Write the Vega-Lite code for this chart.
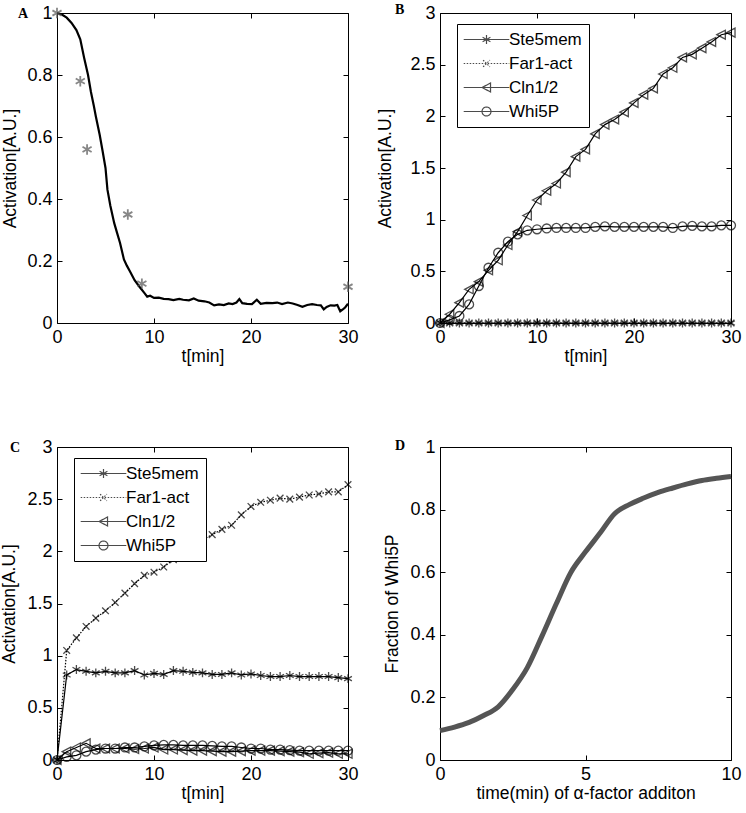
{
  "$schema": "https://vega.github.io/schema/vega-lite/v6.json",
  "padding": {"left": 0, "top": 2, "right": 5, "bottom": 5},
  "config": {
    "font": "Liberation Sans",
    "view": {"stroke": "black", "strokeWidth": 1},
    "axis": {"domain": false, "grid": false, "ticks": true, "tickSize": 5, "tickColor": "black", "tickWidth": 1, "labelFont": "Liberation Sans", "labelFontSize": 18, "labelColor": "black", "labelPadding": 5, "labelFlush": false, "labelOverlap": false, "titleFont": "Liberation Sans", "titleFontSize": 17.5, "titleFontWeight": "normal", "titleColor": "black", "format": "~r"},
    "axisX": {"titlePadding": 1},
    "axisY": {"titlePadding": 7},
    "title": {"font": "Liberation Serif", "fontWeight": "bold", "fontSize": 14, "color": "black", "anchor": "start", "frame": "group", "baseline": "alphabetic"}
  },
  "datasets": {
    "A_line": [
      {"t":0,"v":1.0},{"t":0.5,"v":0.995},{"t":1,"v":0.985},{"t":1.5,"v":0.968},{"t":2,"v":0.945},{"t":2.4,"v":0.915},{"t":2.8,"v":0.855},{"t":3.2,"v":0.8},{"t":3.5,"v":0.745},{"t":3.8,"v":0.7},{"t":4.0,"v":0.667},{"t":4.4,"v":0.607},{"t":4.7,"v":0.555},{"t":5.0,"v":0.5},{"t":5.2,"v":0.43},{"t":5.5,"v":0.378},{"t":5.9,"v":0.322},{"t":6.2,"v":0.29},{"t":6.5,"v":0.258},{"t":6.9,"v":0.205},{"t":7.2,"v":0.185},{"t":7.5,"v":0.168},{"t":8.0,"v":0.138},{"t":8.5,"v":0.117},{"t":9.0,"v":0.097},{"t":9.3,"v":0.085},{"t":9.6,"v":0.088},{"t":10.0,"v":0.081},{"t":10.5,"v":0.082},{"t":11.0,"v":0.078},{"t":11.5,"v":0.077},{"t":12.0,"v":0.074},{"t":12.6,"v":0.078},{"t":13.0,"v":0.075},{"t":13.6,"v":0.073},{"t":14.1,"v":0.079},{"t":14.6,"v":0.072},{"t":15.2,"v":0.07},{"t":15.7,"v":0.066},{"t":16.2,"v":0.057},{"t":16.7,"v":0.06},{"t":17.2,"v":0.058},{"t":17.7,"v":0.063},{"t":18.1,"v":0.061},{"t":18.5,"v":0.066},{"t":18.8,"v":0.077},{"t":19.1,"v":0.064},{"t":19.6,"v":0.062},{"t":20.1,"v":0.061},{"t":20.6,"v":0.075},{"t":21.0,"v":0.062},{"t":21.6,"v":0.065},{"t":22.2,"v":0.064},{"t":22.7,"v":0.066},{"t":23.2,"v":0.061},{"t":23.8,"v":0.066},{"t":24.3,"v":0.063},{"t":24.8,"v":0.058},{"t":25.3,"v":0.052},{"t":25.8,"v":0.058},{"t":26.3,"v":0.061},{"t":26.8,"v":0.058},{"t":27.2,"v":0.057},{"t":27.5,"v":0.044},{"t":27.8,"v":0.052},{"t":28.2,"v":0.057},{"t":28.6,"v":0.056},{"t":28.9,"v":0.058},{"t":29.2,"v":0.038},{"t":29.5,"v":0.045},{"t":29.7,"v":0.05},{"t":30.0,"v":0.062}
    ],
    "A_pts": [
      {"t":0,"v":1.0},{"t":2.4,"v":0.78},{"t":3.1,"v":0.56},{"t":7.3,"v":0.35},{"t":8.75,"v":0.127},{"t":30,"v":0.117}
    ],
    "B": [
      {"t":0,"v":0,"s":"Ste5mem"},{"t":1,"v":0,"s":"Ste5mem"},{"t":2,"v":0,"s":"Ste5mem"},{"t":3,"v":0,"s":"Ste5mem"},{"t":4,"v":0,"s":"Ste5mem"},{"t":5,"v":0,"s":"Ste5mem"},{"t":6,"v":0,"s":"Ste5mem"},{"t":7,"v":0,"s":"Ste5mem"},{"t":8,"v":0,"s":"Ste5mem"},{"t":9,"v":0,"s":"Ste5mem"},{"t":10,"v":0,"s":"Ste5mem"},{"t":11,"v":0,"s":"Ste5mem"},{"t":12,"v":0,"s":"Ste5mem"},{"t":13,"v":0,"s":"Ste5mem"},{"t":14,"v":0,"s":"Ste5mem"},{"t":15,"v":0,"s":"Ste5mem"},{"t":16,"v":0,"s":"Ste5mem"},{"t":17,"v":0,"s":"Ste5mem"},{"t":18,"v":0,"s":"Ste5mem"},{"t":19,"v":0,"s":"Ste5mem"},{"t":20,"v":0,"s":"Ste5mem"},{"t":21,"v":0,"s":"Ste5mem"},{"t":22,"v":0,"s":"Ste5mem"},{"t":23,"v":0,"s":"Ste5mem"},{"t":24,"v":0,"s":"Ste5mem"},{"t":25,"v":0,"s":"Ste5mem"},{"t":26,"v":0,"s":"Ste5mem"},{"t":27,"v":0,"s":"Ste5mem"},{"t":28,"v":0,"s":"Ste5mem"},{"t":29,"v":0,"s":"Ste5mem"},{"t":30,"v":0,"s":"Ste5mem"},
      {"t":0,"v":0,"s":"Far1-act"},{"t":1,"v":0,"s":"Far1-act"},{"t":2,"v":0,"s":"Far1-act"},{"t":3,"v":0,"s":"Far1-act"},{"t":4,"v":0,"s":"Far1-act"},{"t":5,"v":0,"s":"Far1-act"},{"t":6,"v":0,"s":"Far1-act"},{"t":7,"v":0,"s":"Far1-act"},{"t":8,"v":0,"s":"Far1-act"},{"t":9,"v":0,"s":"Far1-act"},{"t":10,"v":0,"s":"Far1-act"},{"t":11,"v":0,"s":"Far1-act"},{"t":12,"v":0,"s":"Far1-act"},{"t":13,"v":0,"s":"Far1-act"},{"t":14,"v":0,"s":"Far1-act"},{"t":15,"v":0,"s":"Far1-act"},{"t":16,"v":0,"s":"Far1-act"},{"t":17,"v":0,"s":"Far1-act"},{"t":18,"v":0,"s":"Far1-act"},{"t":19,"v":0,"s":"Far1-act"},{"t":20,"v":0,"s":"Far1-act"},{"t":21,"v":0,"s":"Far1-act"},{"t":22,"v":0,"s":"Far1-act"},{"t":23,"v":0,"s":"Far1-act"},{"t":24,"v":0,"s":"Far1-act"},{"t":25,"v":0,"s":"Far1-act"},{"t":26,"v":0,"s":"Far1-act"},{"t":27,"v":0,"s":"Far1-act"},{"t":28,"v":0,"s":"Far1-act"},{"t":29,"v":0,"s":"Far1-act"},{"t":30,"v":0,"s":"Far1-act"},
      {"t":0,"v":0,"s":"Cln1/2"},{"t":1,"v":0.085,"s":"Cln1/2"},{"t":2,"v":0.197,"s":"Cln1/2"},{"t":3,"v":0.326,"s":"Cln1/2"},{"t":4,"v":0.4,"s":"Cln1/2"},{"t":5,"v":0.51,"s":"Cln1/2"},{"t":6,"v":0.607,"s":"Cln1/2"},{"t":7,"v":0.755,"s":"Cln1/2"},{"t":8,"v":0.884,"s":"Cln1/2"},{"t":9,"v":1.04,"s":"Cln1/2"},{"t":10,"v":1.19,"s":"Cln1/2"},{"t":11,"v":1.28,"s":"Cln1/2"},{"t":12,"v":1.35,"s":"Cln1/2"},{"t":13,"v":1.46,"s":"Cln1/2"},{"t":14,"v":1.61,"s":"Cln1/2"},{"t":15,"v":1.68,"s":"Cln1/2"},{"t":16,"v":1.83,"s":"Cln1/2"},{"t":17,"v":1.92,"s":"Cln1/2"},{"t":18,"v":1.97,"s":"Cln1/2"},{"t":19,"v":2.04,"s":"Cln1/2"},{"t":20,"v":2.13,"s":"Cln1/2"},{"t":21,"v":2.21,"s":"Cln1/2"},{"t":22,"v":2.27,"s":"Cln1/2"},{"t":23,"v":2.41,"s":"Cln1/2"},{"t":24,"v":2.47,"s":"Cln1/2"},{"t":25,"v":2.57,"s":"Cln1/2"},{"t":26,"v":2.6,"s":"Cln1/2"},{"t":27,"v":2.66,"s":"Cln1/2"},{"t":28,"v":2.72,"s":"Cln1/2"},{"t":29,"v":2.79,"s":"Cln1/2"},{"t":30,"v":2.81,"s":"Cln1/2"},
      {"t":0,"v":0,"s":"Whi5P"},{"t":1,"v":0.03,"s":"Whi5P"},{"t":2,"v":0.068,"s":"Whi5P"},{"t":3,"v":0.18,"s":"Whi5P"},{"t":4,"v":0.358,"s":"Whi5P"},{"t":5,"v":0.535,"s":"Whi5P"},{"t":6,"v":0.68,"s":"Whi5P"},{"t":7,"v":0.787,"s":"Whi5P"},{"t":8,"v":0.858,"s":"Whi5P"},{"t":9,"v":0.897,"s":"Whi5P"},{"t":10,"v":0.907,"s":"Whi5P"},{"t":11,"v":0.915,"s":"Whi5P"},{"t":12,"v":0.92,"s":"Whi5P"},{"t":13,"v":0.92,"s":"Whi5P"},{"t":14,"v":0.92,"s":"Whi5P"},{"t":15,"v":0.92,"s":"Whi5P"},{"t":16,"v":0.93,"s":"Whi5P"},{"t":17,"v":0.935,"s":"Whi5P"},{"t":18,"v":0.93,"s":"Whi5P"},{"t":19,"v":0.93,"s":"Whi5P"},{"t":20,"v":0.93,"s":"Whi5P"},{"t":21,"v":0.93,"s":"Whi5P"},{"t":22,"v":0.93,"s":"Whi5P"},{"t":23,"v":0.93,"s":"Whi5P"},{"t":24,"v":0.92,"s":"Whi5P"},{"t":25,"v":0.935,"s":"Whi5P"},{"t":26,"v":0.94,"s":"Whi5P"},{"t":27,"v":0.935,"s":"Whi5P"},{"t":28,"v":0.935,"s":"Whi5P"},{"t":29,"v":0.945,"s":"Whi5P"},{"t":30,"v":0.945,"s":"Whi5P"}
    ],
    "C": [
      {"t":0,"v":0,"s":"Ste5mem"},{"t":1,"v":0.815,"s":"Ste5mem"},{"t":2,"v":0.867,"s":"Ste5mem"},{"t":3,"v":0.85,"s":"Ste5mem"},{"t":4,"v":0.835,"s":"Ste5mem"},{"t":5,"v":0.85,"s":"Ste5mem"},{"t":6,"v":0.835,"s":"Ste5mem"},{"t":7,"v":0.835,"s":"Ste5mem"},{"t":8,"v":0.857,"s":"Ste5mem"},{"t":9,"v":0.815,"s":"Ste5mem"},{"t":10,"v":0.83,"s":"Ste5mem"},{"t":11,"v":0.82,"s":"Ste5mem"},{"t":12,"v":0.857,"s":"Ste5mem"},{"t":13,"v":0.85,"s":"Ste5mem"},{"t":14,"v":0.84,"s":"Ste5mem"},{"t":15,"v":0.835,"s":"Ste5mem"},{"t":16,"v":0.82,"s":"Ste5mem"},{"t":17,"v":0.82,"s":"Ste5mem"},{"t":18,"v":0.835,"s":"Ste5mem"},{"t":19,"v":0.815,"s":"Ste5mem"},{"t":20,"v":0.825,"s":"Ste5mem"},{"t":21,"v":0.81,"s":"Ste5mem"},{"t":22,"v":0.8,"s":"Ste5mem"},{"t":23,"v":0.8,"s":"Ste5mem"},{"t":24,"v":0.81,"s":"Ste5mem"},{"t":25,"v":0.8,"s":"Ste5mem"},{"t":26,"v":0.8,"s":"Ste5mem"},{"t":27,"v":0.8,"s":"Ste5mem"},{"t":28,"v":0.8,"s":"Ste5mem"},{"t":29,"v":0.79,"s":"Ste5mem"},{"t":30,"v":0.78,"s":"Ste5mem"},
      {"t":0,"v":0,"s":"Far1-act"},{"t":1,"v":1.05,"s":"Far1-act"},{"t":2,"v":1.17,"s":"Far1-act"},{"t":3,"v":1.28,"s":"Far1-act"},{"t":4,"v":1.36,"s":"Far1-act"},{"t":5,"v":1.43,"s":"Far1-act"},{"t":6,"v":1.51,"s":"Far1-act"},{"t":7,"v":1.6,"s":"Far1-act"},{"t":8,"v":1.69,"s":"Far1-act"},{"t":9,"v":1.77,"s":"Far1-act"},{"t":10,"v":1.8,"s":"Far1-act"},{"t":11,"v":1.85,"s":"Far1-act"},{"t":12,"v":1.92,"s":"Far1-act"},{"t":13,"v":1.99,"s":"Far1-act"},{"t":14,"v":2.05,"s":"Far1-act"},{"t":15,"v":2.11,"s":"Far1-act"},{"t":16,"v":2.16,"s":"Far1-act"},{"t":17,"v":2.21,"s":"Far1-act"},{"t":18,"v":2.25,"s":"Far1-act"},{"t":19,"v":2.35,"s":"Far1-act"},{"t":20,"v":2.43,"s":"Far1-act"},{"t":21,"v":2.47,"s":"Far1-act"},{"t":22,"v":2.49,"s":"Far1-act"},{"t":23,"v":2.51,"s":"Far1-act"},{"t":24,"v":2.5,"s":"Far1-act"},{"t":25,"v":2.52,"s":"Far1-act"},{"t":26,"v":2.54,"s":"Far1-act"},{"t":27,"v":2.55,"s":"Far1-act"},{"t":28,"v":2.57,"s":"Far1-act"},{"t":29,"v":2.57,"s":"Far1-act"},{"t":30,"v":2.64,"s":"Far1-act"},
      {"t":0,"v":0,"s":"Cln1/2"},{"t":1,"v":0.08,"s":"Cln1/2"},{"t":2,"v":0.12,"s":"Cln1/2"},{"t":3,"v":0.16,"s":"Cln1/2"},{"t":4,"v":0.11,"s":"Cln1/2"},{"t":5,"v":0.11,"s":"Cln1/2"},{"t":6,"v":0.11,"s":"Cln1/2"},{"t":7,"v":0.11,"s":"Cln1/2"},{"t":8,"v":0.105,"s":"Cln1/2"},{"t":9,"v":0.11,"s":"Cln1/2"},{"t":10,"v":0.12,"s":"Cln1/2"},{"t":11,"v":0.1,"s":"Cln1/2"},{"t":12,"v":0.1,"s":"Cln1/2"},{"t":13,"v":0.095,"s":"Cln1/2"},{"t":14,"v":0.09,"s":"Cln1/2"},{"t":15,"v":0.09,"s":"Cln1/2"},{"t":16,"v":0.085,"s":"Cln1/2"},{"t":17,"v":0.08,"s":"Cln1/2"},{"t":18,"v":0.08,"s":"Cln1/2"},{"t":19,"v":0.085,"s":"Cln1/2"},{"t":20,"v":0.09,"s":"Cln1/2"},{"t":21,"v":0.09,"s":"Cln1/2"},{"t":22,"v":0.09,"s":"Cln1/2"},{"t":23,"v":0.085,"s":"Cln1/2"},{"t":24,"v":0.08,"s":"Cln1/2"},{"t":25,"v":0.075,"s":"Cln1/2"},{"t":26,"v":0.06,"s":"Cln1/2"},{"t":27,"v":0.065,"s":"Cln1/2"},{"t":28,"v":0.07,"s":"Cln1/2"},{"t":29,"v":0.06,"s":"Cln1/2"},{"t":30,"v":0.06,"s":"Cln1/2"},
      {"t":0,"v":0,"s":"Whi5P"},{"t":1,"v":0.03,"s":"Whi5P"},{"t":2,"v":0.045,"s":"Whi5P"},{"t":3,"v":0.08,"s":"Whi5P"},{"t":4,"v":0.1,"s":"Whi5P"},{"t":5,"v":0.11,"s":"Whi5P"},{"t":6,"v":0.11,"s":"Whi5P"},{"t":7,"v":0.12,"s":"Whi5P"},{"t":8,"v":0.12,"s":"Whi5P"},{"t":9,"v":0.13,"s":"Whi5P"},{"t":10,"v":0.14,"s":"Whi5P"},{"t":11,"v":0.145,"s":"Whi5P"},{"t":12,"v":0.145,"s":"Whi5P"},{"t":13,"v":0.14,"s":"Whi5P"},{"t":14,"v":0.14,"s":"Whi5P"},{"t":15,"v":0.14,"s":"Whi5P"},{"t":16,"v":0.135,"s":"Whi5P"},{"t":17,"v":0.13,"s":"Whi5P"},{"t":18,"v":0.13,"s":"Whi5P"},{"t":19,"v":0.12,"s":"Whi5P"},{"t":20,"v":0.11,"s":"Whi5P"},{"t":21,"v":0.11,"s":"Whi5P"},{"t":22,"v":0.1,"s":"Whi5P"},{"t":23,"v":0.1,"s":"Whi5P"},{"t":24,"v":0.095,"s":"Whi5P"},{"t":25,"v":0.09,"s":"Whi5P"},{"t":26,"v":0.09,"s":"Whi5P"},{"t":27,"v":0.09,"s":"Whi5P"},{"t":28,"v":0.09,"s":"Whi5P"},{"t":29,"v":0.09,"s":"Whi5P"},{"t":30,"v":0.09,"s":"Whi5P"}
    ],
    "D": [
      {"t":0,"v":0.094},{"t":0.5,"v":0.105},{"t":1,"v":0.12},{"t":1.5,"v":0.142},{"t":2,"v":0.17},{"t":2.5,"v":0.225},{"t":3,"v":0.295},{"t":3.5,"v":0.395},{"t":4,"v":0.5},{"t":4.5,"v":0.6},{"t":5,"v":0.665},{"t":5.5,"v":0.725},{"t":6,"v":0.787},{"t":6.5,"v":0.816},{"t":7,"v":0.837},{"t":7.5,"v":0.855},{"t":8,"v":0.869},{"t":8.5,"v":0.882},{"t":9,"v":0.893},{"t":9.5,"v":0.9},{"t":10,"v":0.906}
    ]
  },
  "columns": 2,
  "spacing": {"column": 92, "row": 124},
  "bounds": "flush",
  "resolve": {"scale": {"shape": "independent", "strokeDash": "independent"}, "legend": {"shape": "independent", "strokeDash": "independent"}},
  "concat": [
    {
      "width": 291, "height": 310,
      "title": {"text": "A", "dx": -39, "offset": -17},
      "layer": [
        {
          "data": {"name": "A_line"},
          "mark": {"type": "line", "stroke": "black", "strokeWidth": 2.2},
          "encoding": {
            "x": {"field": "t", "type": "quantitative", "scale": {"domain": [0, 30], "nice": false}, "axis": {"values": [0, 10, 20, 30], "title": "t[min]", "offset": -5}},
            "y": {"field": "v", "type": "quantitative", "scale": {"domain": [0, 1], "nice": false}, "axis": {"values": [0, 0.2, 0.4, 0.6, 0.8, 1], "title": "Activation[A.U.]", "offset": -5}}
          }
        },
        {
          "data": {"name": "A_pts"},
          "mark": {"type": "point", "shape": "M0,-1V1M-0.87,-0.5L0.87,0.5M-0.87,0.5L0.87,-0.5", "filled": false, "stroke": "#555555", "strokeWidth": 1.8, "size": 110},
          "encoding": {
            "x": {"field": "t", "type": "quantitative", "axis": {"orient": "top", "values": [0, 10, 20, 30], "labels": false, "title": null, "offset": -5}},
            "y": {"field": "v", "type": "quantitative", "axis": {"orient": "right", "values": [0, 0.2, 0.4, 0.6, 0.8, 1], "labels": false, "title": null, "offset": -5}}
          }
        }
      ],
      "resolve": {"axis": {"x": "independent", "y": "independent"}}
    },
    {
      "width": 291, "height": 310,
      "title": {"text": "B", "dx": -45, "offset": -13},
      "data": {"name": "B"},
      "encoding": {
        "x": {"field": "t", "type": "quantitative", "scale": {"domain": [0, 30], "nice": false}, "axis": null},
        "y": {"field": "v", "type": "quantitative", "scale": {"domain": [0, 3], "nice": false}, "axis": null}
      },
      "layer": [
        {"transform": [{"filter": "datum.s !== 'Far1-act'"}], "mark": {"type": "line", "stroke": "black", "strokeWidth": 1.2},
          "encoding": {
            "x": {"field": "t", "type": "quantitative", "axis": {"values": [0, 10, 20, 30], "title": "t[min]", "offset": -5}},
            "y": {"field": "v", "type": "quantitative", "axis": {"values": [0, 0.5, 1, 1.5, 2, 2.5, 3], "title": "Activation[A.U.]", "offset": -5, "titlePadding": 15}},
            "detail": {"field": "s", "type": "nominal"}
          }
        },
        {"mark": {"type": "point", "opacity": 0},
          "encoding": {
            "x": {"field": "t", "type": "quantitative", "axis": {"orient": "top", "values": [0, 10, 20, 30], "labels": false, "title": null, "offset": -5}},
            "y": {"field": "v", "type": "quantitative", "axis": {"orient": "right", "values": [0, 0.5, 1, 1.5, 2, 2.5, 3], "labels": false, "title": null, "offset": -5}}
          }
        },
        {"transform": [{"filter": "datum.s === 'Far1-act'"}], "mark": {"type": "line", "stroke": "black", "strokeWidth": 1.2, "strokeDash": [1.5, 1.5]}, "encoding": {}},
        {"transform": [{"filter": "datum.s === 'Ste5mem'"}], "mark": {"type": "point", "shape": "M0,-1V1M-0.87,-0.5L0.87,0.5M-0.87,0.5L0.87,-0.5", "filled": false, "stroke": "black", "strokeWidth": 1.3, "size": 80}},
        {"transform": [{"filter": "datum.s === 'Far1-act'"}], "mark": {"type": "point", "shape": "M-0.75,-0.75L0.75,0.75M-0.75,0.75L0.75,-0.75", "filled": false, "stroke": "black", "strokeWidth": 1.3, "size": 80}},
        {"transform": [{"filter": "datum.s === 'Cln1/2'"}], "mark": {"type": "point", "shape": "M-1,0L0.9,-1V1Z", "filled": false, "stroke": "black", "strokeWidth": 1.3, "size": 80}},
        {"transform": [{"filter": "datum.s === 'Whi5P'"}], "mark": {"type": "point", "shape": "circle", "filled": false, "stroke": "black", "strokeWidth": 1.3, "size": 80}},
        {"transform": [{"filter": "false"}], "mark": {"type": "point", "filled": false, "stroke": "black", "strokeWidth": 1.2, "size": 80},
          "encoding": {
            "shape": {"field": "s", "type": "nominal", "scale": {"domain": ["Ste5mem", "Far1-act", "Cln1/2", "Whi5P"], "range": ["M-5.1,0H5.1M0,-1V1M-0.87,-0.5L0.87,0.5M-0.87,0.5L0.87,-0.5", "M-5.1,0H5.1M-0.75,-0.75L0.75,0.75M-0.75,0.75L0.75,-0.75", "M-5.1,0H5.1M-1,0L0.9,-1V1Z", "M-5.1,0H5.1M1,0A1,1,0,1,1,-1,0A1,1,0,1,1,1,0Z"]},
              "legend": {"title": null, "orient": "none", "legendX": 17, "legendY": 11, "strokeColor": "black", "fillColor": "white", "padding": 7, "labelFont": "Liberation Sans", "labelFontSize": 17, "labelColor": "black", "rowPadding": 6, "symbolSize": 80, "symbolOffset": 14, "labelOffset": 14, "symbolStrokeColor": "black", "symbolStrokeWidth": 1.2, "labelExpr": "datum.label + '\u00a0\u00a0\u00a0'"}},
            "strokeDash": {"field": "s", "type": "nominal", "scale": {"domain": ["Ste5mem", "Far1-act", "Cln1/2", "Whi5P"], "range": [[1, 0], [1.5, 1.5], [1, 0], [1, 0]]}}
          }
        }
      ],
      "resolve": {"axis": {"x": "independent", "y": "independent"}}
    },
    {
      "width": 291, "height": 313,
      "title": {"text": "C", "dx": -47, "offset": -17},
      "data": {"name": "C"},
      "encoding": {
        "x": {"field": "t", "type": "quantitative", "scale": {"domain": [0, 30], "nice": false}, "axis": null},
        "y": {"field": "v", "type": "quantitative", "scale": {"domain": [0, 3], "nice": false}, "axis": null}
      },
      "layer": [
        {"transform": [{"filter": "datum.s !== 'Far1-act'"}], "mark": {"type": "line", "stroke": "black", "strokeWidth": 1.2},
          "encoding": {
            "x": {"field": "t", "type": "quantitative", "axis": {"values": [0, 10, 20, 30], "title": "t[min]", "offset": -5}},
            "y": {"field": "v", "type": "quantitative", "axis": {"values": [0, 0.5, 1, 1.5, 2, 2.5, 3], "title": "Activation[A.U.]", "offset": -5, "titlePadding": 8}},
            "detail": {"field": "s", "type": "nominal"}
          }
        },
        {"mark": {"type": "point", "opacity": 0},
          "encoding": {
            "x": {"field": "t", "type": "quantitative", "axis": {"orient": "top", "values": [0, 10, 20, 30], "labels": false, "title": null, "offset": -5}},
            "y": {"field": "v", "type": "quantitative", "axis": {"orient": "right", "values": [0, 0.5, 1, 1.5, 2, 2.5, 3], "labels": false, "title": null, "offset": -5}}
          }
        },
        {"transform": [{"filter": "datum.s === 'Far1-act'"}], "mark": {"type": "line", "stroke": "black", "strokeWidth": 1.2, "strokeDash": [1.5, 1.5]}, "encoding": {}},
        {"transform": [{"filter": "datum.s === 'Ste5mem'"}], "mark": {"type": "point", "shape": "M0,-1V1M-0.87,-0.5L0.87,0.5M-0.87,0.5L0.87,-0.5", "filled": false, "stroke": "black", "strokeWidth": 1.3, "size": 80}},
        {"transform": [{"filter": "datum.s === 'Far1-act'"}], "mark": {"type": "point", "shape": "M-0.75,-0.75L0.75,0.75M-0.75,0.75L0.75,-0.75", "filled": false, "stroke": "black", "strokeWidth": 1.3, "size": 80}},
        {"transform": [{"filter": "datum.s === 'Cln1/2'"}], "mark": {"type": "point", "shape": "M-1,0L0.9,-1V1Z", "filled": false, "stroke": "black", "strokeWidth": 1.3, "size": 80}},
        {"transform": [{"filter": "datum.s === 'Whi5P'"}], "mark": {"type": "point", "shape": "circle", "filled": false, "stroke": "black", "strokeWidth": 1.3, "size": 80}},
        {"transform": [{"filter": "false"}], "mark": {"type": "point", "filled": false, "stroke": "black", "strokeWidth": 1.2, "size": 80},
          "encoding": {
            "shape": {"field": "s", "type": "nominal", "scale": {"domain": ["Ste5mem", "Far1-act", "Cln1/2", "Whi5P"], "range": ["M-5.1,0H5.1M0,-1V1M-0.87,-0.5L0.87,0.5M-0.87,0.5L0.87,-0.5", "M-5.1,0H5.1M-0.75,-0.75L0.75,0.75M-0.75,0.75L0.75,-0.75", "M-5.1,0H5.1M-1,0L0.9,-1V1Z", "M-5.1,0H5.1M1,0A1,1,0,1,1,-1,0A1,1,0,1,1,1,0Z"]},
              "legend": {"title": null, "orient": "none", "legendX": 17, "legendY": 11, "strokeColor": "black", "fillColor": "white", "padding": 7, "labelFont": "Liberation Sans", "labelFontSize": 17, "labelColor": "black", "rowPadding": 6, "symbolSize": 80, "symbolOffset": 14, "labelOffset": 14, "symbolStrokeColor": "black", "symbolStrokeWidth": 1.2, "labelExpr": "datum.label + '\u00a0\u00a0\u00a0'"}},
            "strokeDash": {"field": "s", "type": "nominal", "scale": {"domain": ["Ste5mem", "Far1-act", "Cln1/2", "Whi5P"], "range": [[1, 0], [1.5, 1.5], [1, 0], [1, 0]]}}
          }
        }
      ],
      "resolve": {"axis": {"x": "independent", "y": "independent"}}
    },
    {
      "width": 291, "height": 313,
      "title": {"text": "D", "dx": -45, "offset": -15},
      "data": {"name": "D"},
      "layer": [
        {
          "mark": {"type": "line", "stroke": "#555555", "strokeWidth": 5, "interpolate": "monotone"},
          "encoding": {
            "x": {"field": "t", "type": "quantitative", "scale": {"domain": [0, 10], "nice": false}, "axis": {"values": [0, 5, 10], "title": "time(min) of α-factor additon", "offset": -5}},
            "y": {"field": "v", "type": "quantitative", "scale": {"domain": [0, 1], "nice": false}, "axis": {"values": [0, 0.2, 0.4, 0.6, 0.8, 1], "title": "Fraction of Whi5P", "offset": -5, "titlePadding": 8}}
          }
        },
        {
          "mark": {"type": "line", "opacity": 0},
          "encoding": {
            "x": {"field": "t", "type": "quantitative", "axis": {"orient": "top", "values": [0, 5, 10], "labels": false, "title": null, "offset": -5}},
            "y": {"field": "v", "type": "quantitative", "axis": {"orient": "right", "values": [0, 0.2, 0.4, 0.6, 0.8, 1], "labels": false, "title": null, "offset": -5}}
          }
        }
      ],
      "resolve": {"axis": {"x": "independent", "y": "independent"}}
    }
  ]
}
